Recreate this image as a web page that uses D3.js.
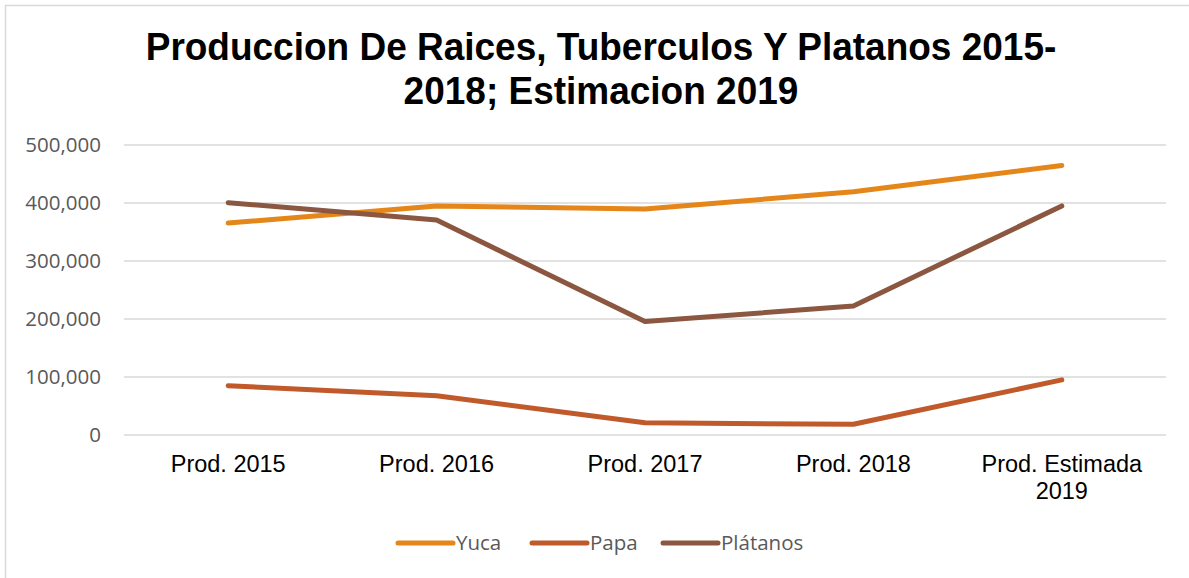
<!DOCTYPE html>
<html>
<head>
<meta charset="utf-8">
<script src="https://cdn.jsdelivr.net/npm/d3@7"></script>
<style>
  body { margin: 0; background: #fff; }
  svg { display: block; }
</style>
</head>
<body>
<div id="chart"></div>
<script>
// Chart data
const categories = ["Prod. 2015", "Prod. 2016", "Prod. 2017", "Prod. 2018", "Prod. Estimada 2019"];
const yuca = [365500, 395000, 389500, 419500, 464500];
const papa = [85000, 67500, 21000, 18500, 95000];
const platanos = [400500, 370500, 195500, 222500, 395000];
const seriesNames = ["Yuca", "Papa", "Plátanos"];
const seriesColors = ["#E5861A", "#C05A2B", "#8B5740"];
const yTicks = [0, 100000, 200000, 300000, 400000, 500000];

const width = 1189;
const height = 578;
const margin = {left: 124, right: 23, top: 145, bottom: 143};

const svg = d3.select("#chart").append("svg")
    .attr("width", width)
    .attr("height", height);

// Chart frame
svg.append("rect")
    .attr("x", 5.5).attr("y", 5.5)
    .attr("width", width + 10).attr("height", height + 10)
    .attr("fill", "#fff")
    .attr("stroke", "#d9d9d9")
    .attr("stroke-width", 1.5);

// Title (two lines), stretched a bit vertically like the original
const title = svg.append("text")
    .attr("text-anchor", "middle")
    .attr("font-family", "'Liberation Sans', Arial, sans-serif")
    .attr("font-weight", "bold")
    .attr("font-size", 37)
    .attr("fill", "#000")
    .attr("transform", "translate(0,-3.5) scale(1,1.06)");
title.append("tspan").attr("x", 601).attr("y", 60).text("Produccion De Raices, Tuberculos Y Platanos 2015-");
title.append("tspan").attr("x", 601).attr("y", 101.5).text("2018; Estimacion 2019");

// Scales
const x = d3.scaleBand()
    .domain(d3.range(categories.length))
    .range([margin.left, width - margin.right]);

const y = d3.scaleLinear()
    .domain([0, 500000])
    .range([height - margin.bottom, margin.top]);

// Gridlines
svg.append("g")
    .selectAll("line")
    .data(yTicks)
    .join("line")
    .attr("x1", margin.left)
    .attr("x2", width - margin.right)
    .attr("y1", d => y(d))
    .attr("y2", d => y(d))
    .attr("stroke", "#d9d9d9")
    .attr("stroke-width", 1.5);

// Y axis labels
svg.append("g")
    .selectAll("text")
    .data(yTicks)
    .join("text")
    .attr("x", 101)
    .attr("y", d => y(d))
    .attr("dy", "0.35em")
    .attr("text-anchor", "end")
    .attr("font-family", "'Open Sans', sans-serif")
    .attr("font-size", 20.5)
    .attr("fill", "#595959")
    .text(d3.format(","));

// X axis labels (wrap the long one)
const xLabels = svg.append("g")
    .selectAll("text")
    .data(categories)
    .join("text")
    .attr("text-anchor", "middle")
    .attr("font-family", "'Liberation Sans', Arial, sans-serif")
    .attr("font-size", 23.5)
    .attr("fill", "#000");

xLabels.each(function(d, i) {
    const cx = x(i) + x.bandwidth() / 2;
    const lines = d.length > 12 ? ["Prod. Estimada", "2019"] : [d];
    lines.forEach((t, k) => {
        d3.select(this).append("tspan")
            .attr("x", cx)
            .attr("y", 472 + k * 27)
            .text(t);
    });
});

// Lines
const allSeries = [yuca, papa, platanos];
const line = d3.line()
    .x((d, i) => x(i) + x.bandwidth() / 2)
    .y(d => y(d));

svg.append("g")
    .selectAll("path")
    .data(allSeries)
    .join("path")
    .attr("d", line)
    .attr("fill", "none")
    .attr("stroke", (d, i) => seriesColors[i])
    .attr("stroke-width", 5)
    .attr("stroke-linecap", "round")
    .attr("stroke-linejoin", "round");

// Legend
const legendX = [398, 532, 663];
const legend = svg.append("g")
    .selectAll("g")
    .data(seriesNames)
    .join("g")
    .attr("transform", (d, i) => `translate(${legendX[i]},543)`);

legend.append("line")
    .attr("x1", 0).attr("x2", 55)
    .attr("stroke", (d, i) => seriesColors[i])
    .attr("stroke-width", 5)
    .attr("stroke-linecap", "round");

legend.append("text")
    .attr("x", 58)
    .attr("dy", "0.35em")
    .attr("font-family", "'Open Sans', sans-serif")
    .attr("font-size", 20.5)
    .attr("fill", "#595959")
    .text(d => d);
</script>
</body>
</html>
